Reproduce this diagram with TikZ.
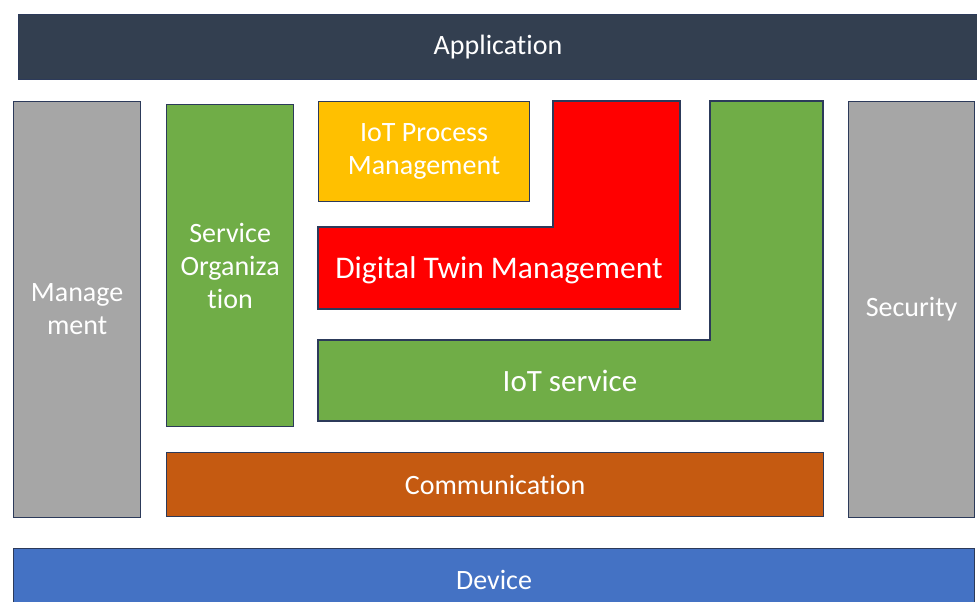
\documentclass[tikz,border=0pt]{standalone}
\usepackage{fontspec}
\setmainfont[Ligatures={NoCommon}]{Carlito}
\usepackage{tikz}
\definecolor{appnavy}{RGB}{51,63,80}
\definecolor{edgeblue}{RGB}{44,58,90}
\definecolor{sidegray}{RGB}{166,166,166}
\definecolor{servgreen}{RGB}{112,173,71}
\definecolor{procyellow}{RGB}{255,192,0}
\definecolor{twinred}{RGB}{255,0,0}
\definecolor{commorange}{RGB}{197,90,17}
\definecolor{devblue}{RGB}{68,114,196}

\tikzset{
  layer/.style={draw=edgeblue,line width=1.2pt,text=white,align=center,
    inner sep=0pt,anchor=north west,font=\fontsize{28}{33}\selectfont},
  lshape/.style={draw=edgeblue,line width=1.2pt}
}

\begin{document}
\begin{tikzpicture}[x=1pt,y=-1pt]
\useasboundingbox (0,0) rectangle (977,602);

% top and bottom bars
\node [layer,fill=appnavy,minimum width=990pt,minimum height=65pt] (app) at (18,14) {};
\node [font=\fontsize{28}{33}\selectfont,text=white] (applabel) at (498,47) {Application};
\node [layer,fill=devblue,minimum width=961pt,minimum height=65pt] (device) at (13,548) {};
\node [font=\fontsize{28}{33}\selectfont,text=white] (devlabel) at (494,580) {Device};

% side columns
\node [layer,fill=sidegray,minimum width=127pt,minimum height=416pt] (manage) at (13,101) {Manage\\ment};
\node [layer,fill=sidegray,minimum width=126pt,minimum height=416pt] (security) at (848,101) {Security};

% inner blocks
\node [layer,fill=servgreen,minimum width=127pt,minimum height=322pt] (serviceorg) at (166,104) {Service\\Organiza\\tion};
\node [layer,fill=procyellow,minimum width=211pt,minimum height=100pt] (process) at (318,101) {IoT Process\\Management};
\node [layer,fill=commorange,minimum width=657pt,minimum height=64pt] (comm) at (166,452) {Communication};

% L-shaped blocks
\draw [lshape,fill=twinred] (553,101) -- (680,101) -- (680,309) -- (318,309) -- (318,227) -- (553,227) -- cycle;
\node [font=\fontsize{31.5}{33}\selectfont,text=white] (twin) at (499,270) {Digital Twin Management};
\draw [lshape,fill=servgreen] (710,101) -- (823,101) -- (823,421) -- (318,421) -- (318,340) -- (710,340) -- cycle;
\node [font=\fontsize{31}{33}\selectfont,text=white] (iotservice) at (570,381) {IoT service};
\end{tikzpicture}
\end{document}
